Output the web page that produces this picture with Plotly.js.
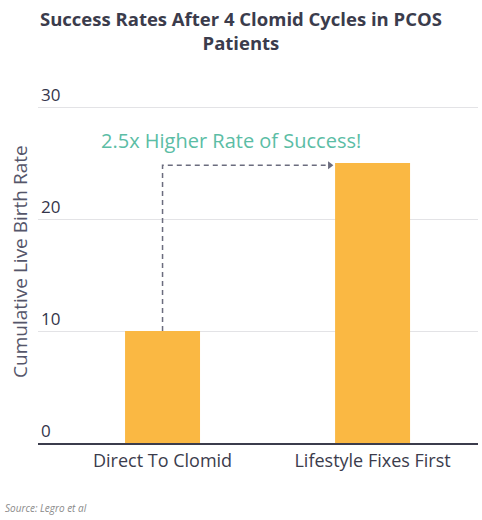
<!DOCTYPE html>
<html><head><meta charset="utf-8">
<script src="https://cdn.plot.ly/plotly-3.0.1.min.js"></script>
<style>html,body{margin:0;padding:0;background:#fff}#chart{width:482px;height:520px}</style>
</head><body><div id="chart"></div>
<script>
const categories = ["Direct To Clomid", "Lifestyle Fixes First"];
const liveBirthRate = [10, 25];
const tickValues = [0, 10, 20, 30];
const tickLabels = ["0", "10", "20", "30"];
const titleText = "Success Rates After 4 Clomid Cycles in PCOS<br>Patients";
const yTitleText = "Cumulative Live Birth Rate";
const annotationText = "2.5x Higher Rate of Success!";
const sourceText = "Source: Legro et al";

const barWidth = 0.357;
const font = "'Open Sans', sans-serif";
const arrowY = liveBirthRate[1] - 0.2;
const arrowEndX = 1 - barWidth / 2 - 0.025;

const data = [{
  type: "bar",
  x: [0, 1],
  y: liveBirthRate,
  width: barWidth,
  marker: {color: "#FAB843"},
  hoverinfo: "skip"
}, {
  type: "scatter",
  mode: "markers",
  x: [arrowEndX],
  y: [arrowY],
  marker: {symbol: "triangle-right", size: 7, color: "#6b6c7e"},
  hoverinfo: "skip",
  cliponaxis: false
}];

const layout = {
  width: 482, height: 520,
  margin: {l: 38, r: 4, t: 79, b: 77},
  showlegend: false,
  paper_bgcolor: "#fff", plot_bgcolor: "#fff",
  xaxis: {
    range: [-0.593, 1.502],
    tickvals: [0, 1],
    ticktext: categories,
    tickfont: {family: font, size: 18, color: "#3b3c4c"},
    showgrid: false, zeroline: false,
    showline: true, linecolor: "#3b3c4c", linewidth: 2,
    ticks: "", fixedrange: true
  },
  yaxis: {
    range: [0, 32.5],
    tickvals: tickValues,
    ticktext: tickLabels,
    ticklabelposition: "inside",
    ticklabelshift: -12,
    ticklabelstandoff: 0,
    tickfont: {family: font, size: 17, color: "#34354a"},
    showgrid: true, gridcolor: "#e3e3e6", gridwidth: 1,
    zeroline: false, ticks: "",
    fixedrange: true
  },
  shapes: [{
    type: "path", xref: "x", yref: "y",
    path: "M 0 " + liveBirthRate[0] + " L 0 " + arrowY + " L " + (arrowEndX - 0.02) + " " + arrowY,
    line: {color: "#6b6c7e", width: 1.5, dash: "5px,4px"}
  }],
  annotations: [{
    text: "<b>" + titleText + "</b>", xref: "paper", yref: "paper",
    x: 0.461, y: 1.1346, xanchor: "center", yanchor: "middle",
    showarrow: false,
    font: {family: font, size: 18.5, color: "#3b3c4c"}
  }, {
    text: yTitleText, xref: "paper", yref: "paper", textangle: -90,
    x: -0.041, y: 0.5, xanchor: "center", yanchor: "middle",
    showarrow: false,
    font: {family: font, size: 19, color: "#55566a"}
  }, {
    text: annotationText, xref: "paper", yref: "paper",
    x: 0.4386, y: 0.8324, xanchor: "center", yanchor: "middle",
    showarrow: false,
    font: {family: font, size: 20, color: "#5bbda5"}
  }, {
    text: "<i>" + sourceText + "</i>", xref: "paper", yref: "paper",
    x: -0.08, y: -0.1786, xanchor: "left", yanchor: "middle",
    showarrow: false,
    font: {family: font, size: 10, color: "#8a8a8a"}
  }]
};

Plotly.newPlot("chart", data, layout, {displayModeBar: false, staticPlot: true});
</script></body></html>
